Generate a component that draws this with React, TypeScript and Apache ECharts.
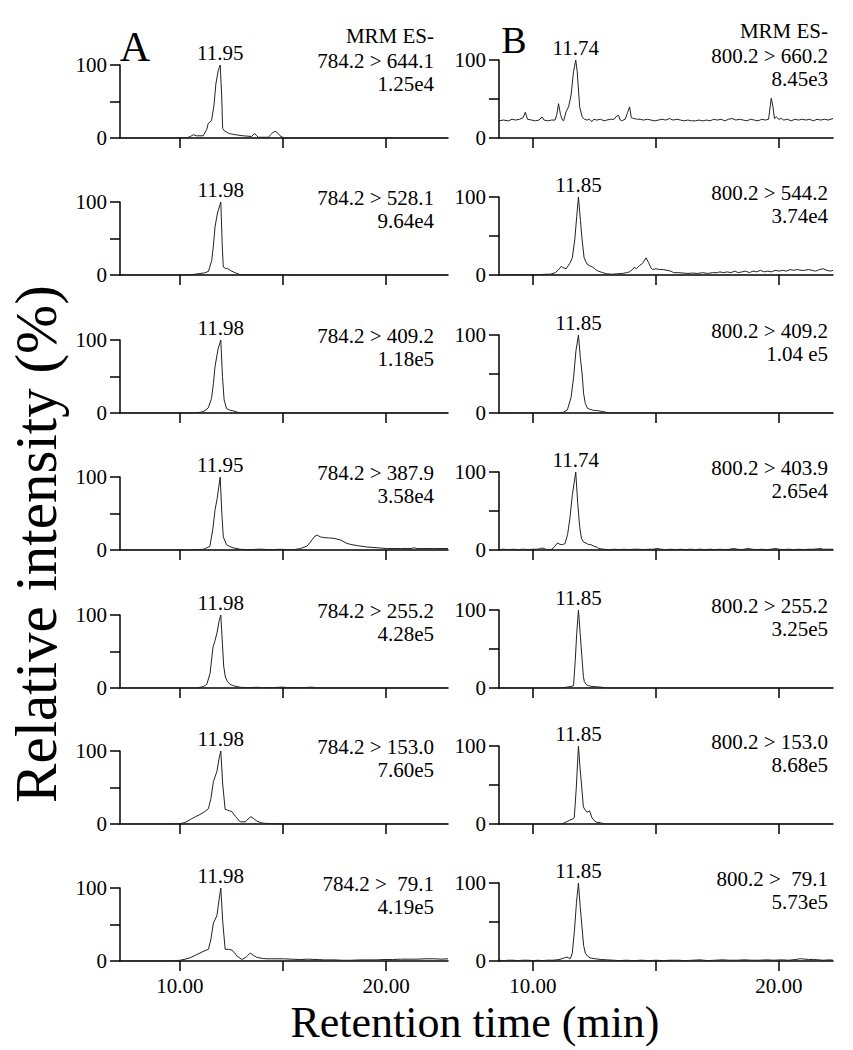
import React, { useEffect, useRef } from "react";
import * as echarts from "echarts";

const FONT = "Liberation Serif";

const xTicks = [10, 15, 20];
const xLabelValues = [10, 20];
const yTicks = [0, 50, 100];
const yLabelValues = [0, 100];

const rangeA = [7.09, 23.0];
const rangeB = [8.62, 22.2];

const transitionsA = ["784.2 > 644.1", "784.2 > 528.1", "784.2 > 409.2", "784.2 > 387.9", "784.2 > 255.2", "784.2 > 153.0", "784.2 >  79.1"];
const intensitiesA = ["1.25e4", "9.64e4", "1.18e5", "3.58e4", "4.28e5", "7.60e5", "4.19e5"];
const peaksA = [11.95, 11.98, 11.98, 11.95, 11.98, 11.98, 11.98];

const transitionsB = ["800.2 > 660.2", "800.2 > 544.2", "800.2 > 409.2", "800.2 > 403.9", "800.2 > 255.2", "800.2 > 153.0", "800.2 >  79.1"];
const intensitiesB = ["8.45e3", "3.74e4", "1.04 e5", "2.65e4", "3.25e5", "8.68e5", "5.73e5"];
const peaksB = [11.74, 11.85, 11.85, 11.74, 11.85, 11.85, 11.85];

const a1 = [[7.09,0],[10.3,0],[10.5,2],[10.65,4.5],[10.8,3],[10.97,3],[11.13,3],[11.3,12],[11.37,20],[11.53,24],[11.65,45],[11.74,74],[11.85,92],[11.95,100],[12.02,60],[12.07,13],[12.15,10],[12.26,8],[12.4,6],[12.58,5],[12.8,4],[13.07,3],[13.3,2.5],[13.47,2],[13.57,5],[13.63,6],[13.72,3],[13.8,1],[14.0,1],[14.28,1],[14.42,5],[14.52,8],[14.62,9],[14.7,8],[14.85,3],[15.04,0],[23.0,0]];
const a2 = [[7.09,0],[10.4,0],[10.7,1],[10.97,2],[11.2,3],[11.38,5],[11.54,20],[11.62,40],[11.7,66],[11.82,85],[11.98,100],[12.05,40],[12.1,11],[12.2,9],[12.3,9],[12.45,6],[12.68,3],[12.92,0.5],[13.5,0.3],[14.5,0.3],[15.5,0],[23.0,0]];
const a3 = [[7.09,0],[10.48,0],[10.8,0.5],[11.0,1],[11.2,3],[11.37,7],[11.53,20],[11.62,40],[11.7,64],[11.85,88],[11.98,100],[12.06,50],[12.14,18],[12.26,6],[12.4,4],[12.58,3],[12.75,1.5],[12.91,0],[23.0,0]];
const a4 = [[7.09,0],[10.48,0],[10.8,0.5],[11.13,1],[11.3,3],[11.45,5],[11.6,30],[11.7,55],[11.8,70],[11.95,100],[12.03,50],[12.1,18],[12.26,7],[12.4,5],[12.58,3],[12.92,1],[13.4,0.5],[13.9,1.2],[14.3,0.5],[14.87,1],[15.2,0.5],[15.52,0.5],[15.84,2],[16.17,5.5],[16.41,14],[16.55,19],[16.66,20.5],[16.8,18],[16.98,17],[17.2,16.5],[17.47,16],[17.8,13.5],[18.1,9],[18.3,7.5],[18.6,6],[19.1,4],[19.6,3],[20.06,2],[20.7,2],[21.2,2],[21.36,3],[21.5,2],[21.7,2],[22.3,2],[23.0,2]];
const a5 = [[7.09,0],[10.81,0],[11.14,2],[11.3,5],[11.46,20],[11.6,56],[11.7,65],[11.79,75],[11.9,92],[11.98,100],[12.06,60],[12.12,30],[12.2,15],[12.3,9],[12.43,5],[12.6,3],[12.92,1],[13.3,0.5],[13.73,1],[14.0,0.5],[14.5,0.5],[14.95,1.2],[15.3,0.5],[16.0,0.5],[16.41,1.2],[16.6,0],[23.0,0]];
const a6 = [[7.09,0],[9.35,0],[10.0,0.5],[10.25,2],[10.49,6],[10.75,10],[10.97,13],[11.2,17],[11.38,21],[11.5,35],[11.62,58],[11.79,72],[11.9,90],[11.98,100],[12.07,55],[12.19,20],[12.3,19],[12.4,18],[12.52,17],[12.7,10],[12.92,3],[13.17,3],[13.35,8],[13.44,10],[13.55,8],[13.73,4],[13.9,2],[14.06,1],[14.5,0.5],[15.44,0],[23.0,0]];
const a7 = [[7.09,0],[9.51,0],[10.0,1],[10.25,2.5],[10.49,4.4],[10.75,8],[10.97,11],[11.2,14],[11.38,16],[11.5,30],[11.62,52],[11.79,62],[11.9,85],[11.98,100],[12.07,55],[12.19,16],[12.35,16],[12.52,15],[12.65,11],[12.76,7],[13.0,2],[13.2,5],[13.41,11],[13.55,8],[13.73,5],[14.0,3.5],[14.22,3],[14.6,3],[15.03,3],[15.4,2.5],[15.84,2],[16.2,2.5],[16.66,2],[17.0,1.5],[17.47,1.5],[17.9,1],[18.28,1],[18.7,1.5],[19.09,1.5],[19.5,1.5],[19.9,2],[20.3,2],[20.7,2.5],[21.1,2.5],[21.5,2.5],[21.9,3],[22.34,3],[22.7,2.5],[23.0,3]];

const b1 = [[8.62,22],[8.8,23],[9.0,22],[9.15,24],[9.3,23],[9.45,24],[9.6,26],[9.69,33],[9.78,24],[9.95,23],[10.1,22],[10.25,23],[10.37,27],[10.45,23],[10.6,22],[10.75,23],[10.9,23],[10.97,30],[11.04,44],[11.12,30],[11.2,23],[11.25,22],[11.35,34],[11.45,40],[11.55,55],[11.65,85],[11.74,100],[11.8,85],[11.9,40],[12.0,27],[12.1,24],[12.2,23],[12.3,24],[12.4,21],[12.47,24],[12.6,23],[12.75,24],[12.9,22],[13.0,23],[13.15,24],[13.3,24],[13.4,28],[13.48,29],[13.55,23],[13.6,22],[13.75,24],[13.85,33],[13.93,40],[14.0,26],[14.1,25],[14.25,24],[14.36,24],[14.5,23],[14.65,24],[14.8,23],[14.95,22],[15.1,23],[15.25,24],[15.4,23],[15.55,25],[15.7,23],[15.85,24],[16.0,23],[16.15,22],[16.3,23],[16.45,22],[16.6,22],[16.75,23],[16.9,22],[17.05,23],[17.2,22],[17.35,24],[17.5,23],[17.65,24],[17.8,22],[17.95,24],[18.1,25],[18.25,23],[18.4,24],[18.55,23],[18.7,22],[18.85,24],[19.0,23],[19.15,22],[19.3,24],[19.45,23],[19.58,24],[19.69,51],[19.76,40],[19.82,25],[19.9,27],[20.0,24],[20.1,25],[20.2,23],[20.35,24],[20.5,22],[20.65,24],[20.8,23],[20.95,24],[21.1,23],[21.25,24],[21.4,22],[21.55,24],[21.7,23],[21.85,24],[22.0,23],[22.2,25]];
const b2 = [[8.62,0],[9.0,0],[9.3,0.5],[9.6,0],[10.0,0.5],[10.3,0.5],[10.5,1],[10.7,1],[10.91,3],[11.05,7],[11.15,11],[11.25,9],[11.35,8],[11.5,15],[11.6,22],[11.7,45],[11.78,75],[11.85,100],[11.93,70],[12.0,45],[12.08,22],[12.2,14],[12.3,12],[12.43,10],[12.55,7],[12.65,5],[12.84,3],[13.0,1.5],[13.24,1],[13.4,1.5],[13.65,2],[13.8,3],[13.92,4],[14.05,7],[14.12,10],[14.2,8],[14.33,12],[14.46,15],[14.6,22],[14.7,16],[14.8,9],[14.87,7],[15.0,8],[15.14,7],[15.3,7],[15.45,6],[15.6,5],[15.72,3],[15.9,3],[16.1,2.5],[16.3,2],[16.5,2.5],[16.7,2],[16.9,3],[17.1,2],[17.3,3],[17.5,3],[17.6,4],[17.75,3],[17.9,4],[18.05,3],[18.2,5],[18.35,3],[18.5,4],[18.65,5],[18.8,3],[18.95,5],[19.1,4],[19.25,6],[19.4,4],[19.55,5],[19.7,4],[19.85,6],[20.0,5],[20.15,6],[20.3,5],[20.45,7],[20.6,6],[20.75,7],[20.9,6],[21.05,6],[21.2,7],[21.35,6],[21.5,5],[21.65,7],[21.8,8],[21.95,6],[22.1,5],[22.2,6]];
const b3 = [[8.62,0],[10.9,0],[11.1,0.5],[11.25,1],[11.4,4],[11.55,20],[11.65,45],[11.75,80],[11.85,100],[11.93,70],[12.0,50],[12.06,25],[12.13,12],[12.22,6],[12.3,5],[12.45,3.5],[12.63,3],[12.8,2],[12.97,1],[13.04,0],[22.2,0]];
const b4 = [[8.62,0.5],[8.8,1],[9.0,0.5],[9.2,1],[9.4,0.5],[9.6,1],[9.8,0.5],[10.0,1],[10.2,1],[10.3,2],[10.37,2.5],[10.45,2],[10.5,1],[10.65,0.5],[10.77,1],[10.9,5],[11.0,9],[11.11,7],[11.2,7],[11.3,8],[11.41,20],[11.5,40],[11.6,70],[11.74,100],[11.82,60],[11.9,30],[11.97,15],[12.06,10],[12.15,9],[12.26,7],[12.35,7],[12.47,5],[12.6,3.5],[12.67,2],[12.87,1],[13.1,0.5],[13.3,1],[13.5,0.5],[13.7,1],[13.9,0.5],[14.1,1],[14.3,1],[14.5,0.5],[14.7,1],[14.9,1],[15.04,2],[15.2,1],[15.4,0.5],[15.6,1],[15.8,0.5],[16.0,1],[16.2,0.5],[16.4,1],[16.6,0.5],[16.8,1],[17.0,0.5],[17.2,1],[17.4,0.5],[17.6,1],[17.8,0.5],[18.0,1],[18.16,2],[18.3,1],[18.5,0.5],[18.77,2],[18.9,1],[19.1,0.5],[19.3,1],[19.5,0.5],[19.7,1],[19.85,2],[20.0,1],[20.2,0.5],[20.4,1],[20.6,0.5],[20.8,1],[21.0,0.5],[21.2,1],[21.4,1],[21.6,1.5],[21.67,2],[21.8,1],[22.0,1],[22.2,1]];
const b5 = [[8.62,0],[11.1,0],[11.35,1],[11.55,2],[11.65,3],[11.72,35],[11.78,70],[11.85,100],[11.92,70],[11.99,40],[12.05,15],[12.09,8],[12.18,4],[12.26,3],[12.4,2],[12.6,1.5],[12.8,1],[12.98,0],[22.2,0]];
const b6 = [[8.62,0],[11.18,0],[11.3,2],[11.38,3],[11.5,5],[11.59,6],[11.68,8],[11.76,45],[11.85,100],[11.92,70],[11.99,45],[12.05,22],[12.12,18],[12.2,15],[12.3,17],[12.4,8],[12.5,4],[12.6,2],[12.75,1.5],[12.94,0],[22.2,0]];
const b7 = [[8.62,1],[8.8,0.5],[9.0,1],[9.2,1],[9.4,0.5],[9.6,1],[9.8,1],[10.0,0.5],[10.2,1],[10.4,0.5],[10.57,1],[10.8,1],[10.98,1.5],[11.1,2],[11.18,3],[11.28,4],[11.36,5],[11.45,4],[11.52,3],[11.6,10],[11.69,40],[11.77,75],[11.85,100],[11.92,70],[11.99,45],[12.06,20],[12.13,10],[12.23,6],[12.33,4],[12.5,3],[12.74,2],[13.0,1.5],[13.28,1],[13.5,0.5],[13.8,1],[14.1,0.5],[14.4,1],[14.7,0.5],[15.0,1],[15.3,0.5],[15.6,1],[15.9,1],[16.2,0.5],[16.5,1],[16.8,1.5],[17.1,0.5],[17.4,1],[17.7,1.5],[18.0,1],[18.3,1],[18.6,1.5],[18.9,1],[19.2,1],[19.5,1.5],[19.8,1],[20.1,1.5],[20.4,1],[20.7,2],[20.87,3],[21.0,2.5],[21.2,2],[21.41,2],[21.6,1.5],[21.8,1],[22.09,1.5],[22.2,1]];

const tracesA = [a1, a2, a3, a4, a5, a6, a7];
const tracesB = [b1, b2, b3, b4, b5, b6, b7];

const baselines = [138, 275, 413, 550, 688, 824, 961];
const A_LEFT = 120, A_WIDTH = 328, A_H = 73;
const B_LEFT = 499, B_WIDTH = 334, B_H = 78;

function txt(text: string, size: number, align: string) {
  return {
    text, fill: "#000", fontFamily: FONT, fontSize: size,
    align, textAlign: align, verticalAlign: "middle", textVerticalAlign: "middle",
  };
}

function buildOption() {
  const grid: any[] = [];
  const xAxis: any[] = [];
  const yAxis: any[] = [];
  const series: any[] = [];
  const graphic: any[] = [];
  const axisColor = "#000";
  const textStyle = (size: number) => ({ fontFamily: FONT, fontSize: size, color: "#000" });

  const panels = [
    { left: A_LEFT, width: A_WIDTH, h: A_H, range: rangeA, traces: tracesA, peaks: peaksA, trans: transitionsA, ints: intensitiesA, right: 434 },
    { left: B_LEFT, width: B_WIDTH, h: B_H, range: rangeB, traces: tracesB, peaks: peaksB, trans: transitionsB, ints: intensitiesB, right: 828 },
  ];

  panels.forEach((p) => {
    for (let r = 0; r < 7; r++) {
      const gi = grid.length;
      const top = baselines[r] - p.h;
      grid.push({ left: p.left, top, width: p.width, height: p.h, containLabel: false });
      xAxis.push({
        type: "value", gridIndex: gi, min: p.range[0], max: p.range[1],
        axisLine: { show: true, onZero: false, lineStyle: { color: axisColor, width: 1.5 } },
        axisTick: { show: true, customValues: xTicks, length: 10, lineStyle: { color: axisColor, width: 1.5 } },
        axisLabel: { show: r === 6, customValues: xLabelValues, margin: 14, formatter: (v: number) => v.toFixed(2), ...textStyle(21) },
        splitLine: { show: false },
      });
      yAxis.push({
        type: "value", gridIndex: gi, min: 0, max: 100,
        axisLine: { show: true, lineStyle: { color: axisColor, width: 1.5 } },
        axisTick: { show: true, customValues: yTicks, length: 10, lineStyle: { color: axisColor, width: 1.5 } },
        axisLabel: { show: true, customValues: yLabelValues, margin: 13, ...textStyle(21) },
        splitLine: { show: false },
      });
      series.push({
        type: "line", xAxisIndex: gi, yAxisIndex: gi, data: p.traces[r], showSymbol: false,
        lineStyle: { color: "#222", width: 1 }, silent: true,
      });
      series.push({
        type: "scatter", xAxisIndex: gi, yAxisIndex: gi, data: [[p.peaks[r], 100]], symbolSize: 1,
        itemStyle: { color: "#fff", opacity: 0 }, silent: true,
        label: { show: true, position: "top", distance: 1, formatter: (d: any) => d.value[0].toFixed(2), ...textStyle(21), opacity: 1 },
      });
      if (r === 0) {
        graphic.push({ type: "text", x: p.right, y: top - 29, style: txt("MRM ES-", 21, "right") });
      }
      graphic.push({ type: "text", x: p.right, y: top - 4, style: txt(p.trans[r], 21, "right") });
      graphic.push({ type: "text", x: p.right, y: top + 19, style: txt(p.ints[r], 21, "right") });
    }
  });

  graphic.push({ type: "text", x: 135, y: 47, style: txt("A", 42, "center") });
  graphic.push({ type: "text", x: 514, y: 40, style: txt("B", 38, "center") });
  graphic.push({ type: "text", x: 475, y: 1022, style: txt("Retention time (min)", 44, "center") });
  graphic.push({ type: "text", x: 36, y: 544, rotation: Math.PI / 2, style: txt("Relative intensity (%)", 59, "center") });

  return { animation: false, backgroundColor: "#fff", grid, xAxis, yAxis, series, graphic };
}

export default function App() {
  const ref = useRef<HTMLDivElement>(null);
  useEffect(() => {
    document.body.style.margin = "0";
    const chart = echarts.init(ref.current!, undefined, { renderer: "svg" });
    chart.setOption(buildOption() as any);
    return () => chart.dispose();
  }, []);
  return <div ref={ref} style={{ width: 853, height: 1050 }} />;
}
